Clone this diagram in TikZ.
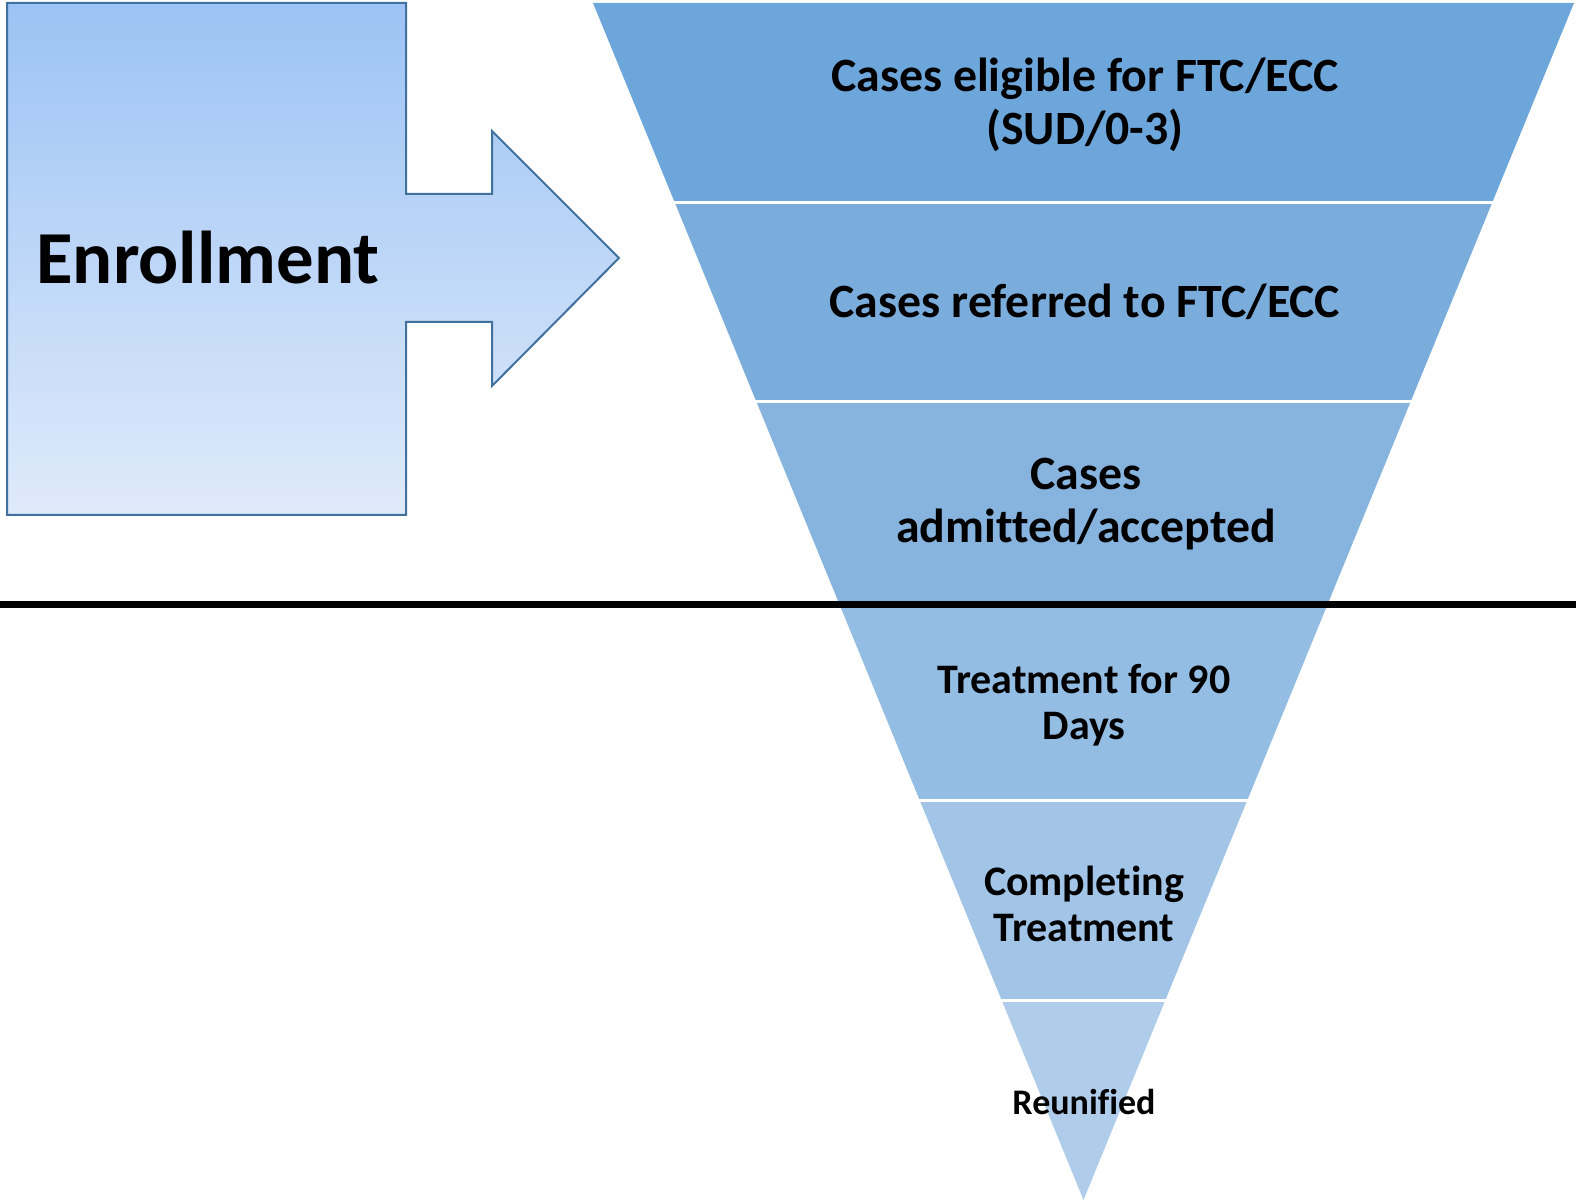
\documentclass[tikz,border=0pt]{standalone}
\usepackage{fontspec}
\setmainfont{Carlito}[Ligatures=NoCommon]
\definecolor{bandA}{HTML}{6CA6DA}
\definecolor{bandB}{HTML}{7AADDC}
\definecolor{bandC}{HTML}{87B4DF}
\definecolor{bandD}{HTML}{94BDE3}
\definecolor{bandE}{HTML}{A2C5E7}
\definecolor{bandF}{HTML}{AFCDEA}
\definecolor{arrowtop}{HTML}{9CC3F5}
\definecolor{arrowbot}{HTML}{DFEAFA}
\definecolor{arrowline}{HTML}{41719C}
\begin{document}
\begin{tikzpicture}[x=0.5pt,y=-0.5pt,
  bandtext/.style={align=center,text=black,inner sep=0pt},
  bigtext/.style={bandtext,font=\bfseries\fontsize{23.9}{26.3}\selectfont},
  midtext/.style={bandtext,font=\bfseries\fontsize{21}{23}\selectfont},
  smalltext/.style={bandtext,font=\bfseries\fontsize{18}{21}\selectfont},
  sep/.style={white,line width=1.5pt}]
\useasboundingbox (0,0) rectangle (1576,1202);
% funnel bands
\fill[bandA] (593,3) -- (1574,3) -- (1492.25,202.5) -- (674.75,202.5) -- cycle;
\fill[bandB] (674.75,202.5) -- (1492.25,202.5) -- (1410.5,402) -- (756.5,402) -- cycle;
\fill[bandC] (756.5,402) -- (1410.5,402) -- (1328.74,601.5) -- (838.26,601.5) -- cycle;
\fill[bandD] (838.26,601.5) -- (1328.74,601.5) -- (1247,801) -- (920,801) -- cycle;
\fill[bandE] (920,801) -- (1247,801) -- (1165.2,1000.5) -- (1001.8,1000.5) -- cycle;
\fill[bandF] (1001.8,1000.5) -- (1165.2,1000.5) -- (1083.5,1200) -- cycle;
% separators
\draw[sep] (672,202.5) -- (1495,202.5);
\draw[sep] (754,402) -- (1413,402);
\draw[sep] (917,801) -- (1250,801);
\draw[sep] (999,1000.5) -- (1168,1000.5);
% enrollment arrow
\shade[top color=arrowtop,bottom color=arrowbot]
  (7,3) -- (406,3) -- (406,194) -- (492,194) -- (492,131) -- (619,258)
  -- (492,386) -- (492,322) -- (406,322) -- (406,515) -- (7,515) -- cycle;
\draw[arrowline,line width=1pt,line join=miter]
  (7,3) -- (406,3) -- (406,194) -- (492,194) -- (492,131) -- (619,258)
  -- (492,386) -- (492,322) -- (406,322) -- (406,515) -- (7,515) -- cycle;
\node[anchor=base west,inner sep=0pt,font=\bfseries\fontsize{37.4}{41}\selectfont] (enroll) at (36,284) {Enrollment};
% horizontal divider
\coordinate (divL) at (0,605);
\coordinate (divR) at (1576,605);
\draw[black,line width=3.5pt] (divL) -- (divR);
% band labels
\node[bigtext] (t1) at (1085,105) {Cases eligible for FTC/ECC\\(SUD/0-3)};
\node[bigtext] (t2) at (1085,302) {Cases referred to FTC/ECC};
\node[bigtext] (t3) at (1086,504) {Cases\\admitted/accepted};
\node[midtext] (t4) at (1084,705) {Treatment for 90\\Days};
\node[midtext] (t5) at (1084,904) {Completing\\Treatment};
\node[smalltext] (t6) at (1084,1102) {Reunified};
\end{tikzpicture}
\end{document}
